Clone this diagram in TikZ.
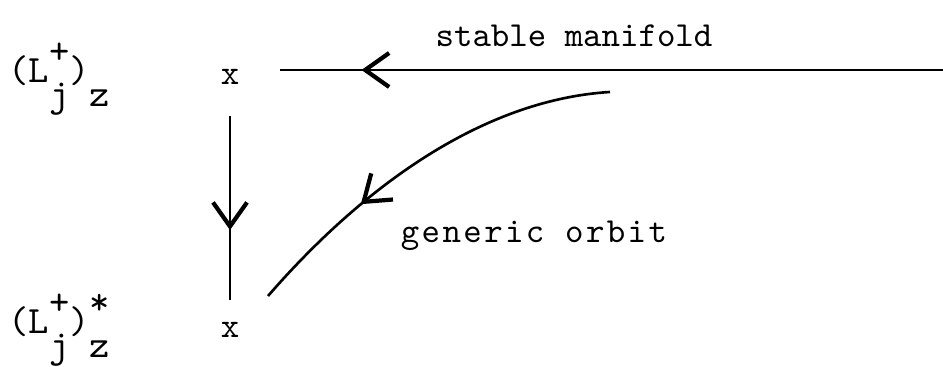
\documentclass[tikz,border=0pt]{standalone}
\usepackage{fontspec}
\setmonofont{Latin Modern Mono}
\newfontfamily\widemono[LetterSpace=6.8]{Latin Modern Mono}
\usepackage{tikz}
\usetikzlibrary{arrows.meta,decorations.markings,calc}
\newcommand{\hup}[1]{\raisebox{0.5em}{#1}}
\newcommand{\hdn}[1]{\raisebox{-0.6em}{#1}}
\newcommand{\hstk}[2]{\rlap{\hup{#1}}\hdn{#2}}
\tikzset{
  barb/.tip={Straight Barb[length=0.24cm, width=0.34cm, line width=1.2pt]},
  flow/.style={line width=0.75pt},
  midtip/.style={postaction={decorate},
    decoration={markings, mark=at position #1 with {\arrow{barb}}}},
  lbl/.style={font=\fontsize{10}{12}\selectfont\ttfamily},
  sym/.style={font=\fontsize{11}{13}\selectfont\ttfamily, inner sep=0pt, anchor=base west},
  pt/.style={lbl, inner sep=0pt, anchor=base},
}

\begin{document}
\begin{tikzpicture}
  \useasboundingbox (0,0) rectangle (9.43,3.67);
  % fixed points
  \node[sym] (ltop) at (0.08,2.84) {(L\hstk{+}{j})\hdn{z}};
  \node[sym] (lbot) at (0.08,0.33) {(L\hstk{+}{j})\hstk{*}{z}};
  \node[pt] (xtop) at (2.30,2.82) {x};
  \node[pt] (xbot) at (2.30,0.29) {x};
  % stable manifold
  \coordinate (smend) at (9.43,2.97);
  \draw[flow, midtip=0.877] (smend) -- ($(xtop.east |- smend)+(0.40,0)$);
  \node[lbl, anchor=base] (stab) at (5.74,3.20) {stable manifold};
  % drop between the points
  \draw[flow, midtip=0.62] ($(xtop.south)+(0,-0.30)$) -- ($(xbot.north)+(0,0.22)$);
  % generic orbit
  \coordinate (orbstart) at (6.10,2.75);
  \coordinate (orbend) at (2.68,0.71);
  \draw[flow, midtip=0.68] (orbstart) .. controls (4.80,2.67) and (3.60,1.77) .. (orbend);
  \node[lbl, anchor=base] (gen) at (5.34,1.24) {\widemono generic orbit};
\end{tikzpicture}
\end{document}
